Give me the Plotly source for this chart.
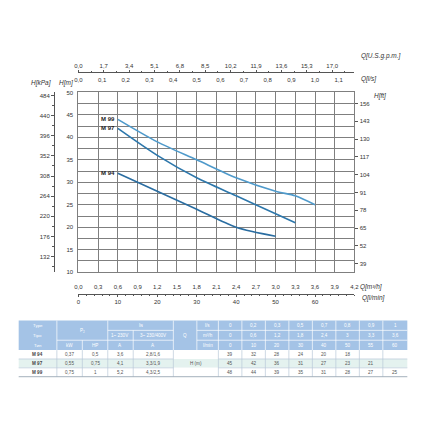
import plotly.graph_objects as go

W, H = 427, 430

# ---- performance table data ----
types = ["M 94", "M 97", "M 99"]
p2_kw = ["0,37", "0,55", "0,75"]
p2_hp = ["0,5", "0,75", "1"]
in_1ph = ["3,6", "4,1", "5,2"]
in_3ph = ["2,8/1,6", "3,3/1,9", "4,3/2,5"]

q_ls = ["0", "0,2", "0,3", "0,5", "0,7", "0,8", "0,9", "1"]
q_m3h = ["0", "0,6", "1,2", "1,8", "2,4", "3", "3,3", "3,6"]
q_lmin = [0, 10, 20, 30, 40, 50, 55, 60]

h_m94 = [39, 32, 28, 24, 20, 18, None, None]
h_m97 = [45, 42, 36, 31, 27, 23, 21, None]
h_m99 = [48, 44, 39, 35, 31, 28, 27, 25]

# ---- axis tick labels ----
lmin_ticks = [0, 10, 20, 30, 40, 50, 60]
m3h_ticks = [0.0, 0.3, 0.6, 0.9, 1.2, 1.5, 1.8, 2.1, 2.4, 2.7, 3.0, 3.3, 3.6, 3.9, 4.2]
ls_ticks = [0.0, 0.1, 0.2, 0.3, 0.4, 0.5, 0.6, 0.7, 0.8, 0.9, 1.0, 1.1]
gpm_ticks = [0.0, 1.7, 3.4, 5.1, 6.8, 8.5, 10.2, 11.9, 13.6, 15.3, 17.0]
m_ticks = [10, 15, 20, 25, 30, 35, 40, 45, 50]
kpa_ticks = [132, 176, 220, 264, 308, 352, 396, 440, 484]
ft_ticks = [39, 52, 65, 78, 91, 104, 117, 130, 143, 156]


def px_x(x):
    return x / W


def px_y(y):
    return 1 - y / H


def comma(v):
    return f"{v:.1f}".replace(".", ",")


GRID = "#7f7f7f"
AX = "#555555"
TXT = "#333333"
curve_colors = {"M 99": "#4f9acb", "M 97": "#2d77ab", "M 94": "#2a6da1"}

fig = go.Figure()

for name, hv in [("M 94", h_m94), ("M 97", h_m97), ("M 99", h_m99)]:
    xs = [q for q, h in zip(q_lmin[1:], hv[1:]) if h is not None]
    ys = [h for h in hv[1:] if h is not None]
    fig.add_trace(go.Scatter(x=xs, y=ys, mode="lines", name=name,
                             line=dict(color=curve_colors[name], width=1.6,
                                       shape="spline", smoothing=0.8),
                             hoverinfo="skip"))
    fig.add_annotation(x=xs[0], y=ys[0], xref="x", yref="y", text=f"<b>{name}</b>",
                       showarrow=False, xanchor="right", xshift=-1,
                       font=dict(size=6, color="#222"))

xd = [px_x(76), px_x(358)]
yd = [px_y(273), px_y(90.7)]

fig.update_layout(
    width=W, height=H, margin=dict(l=0, r=0, t=0, b=0),
    paper_bgcolor="white", plot_bgcolor="white", showlegend=False,
    font=dict(family="Liberation Sans, Arial, sans-serif", size=6, color=TXT),
    xaxis=dict(domain=xd, range=[0, 70], anchor="free", position=px_y(295), side="bottom",
               tickvals=lmin_ticks, ticktext=[str(v) for v in lmin_ticks],
               showline=True, linecolor=AX, linewidth=1, ticks="outside", ticklen=2,
               tickcolor=AX, minor=dict(dtick=2, ticks="outside", ticklen=1, tickcolor=AX),
               showgrid=False, zeroline=False, fixedrange=True),
    xaxis2=dict(overlaying="x", anchor="y", side="bottom", range=[0, 4.2],
                tickvals=m3h_ticks, ticktext=[comma(v) for v in m3h_ticks],
                showgrid=True, gridcolor=GRID, gridwidth=1, ticks="", ticklabelstandoff=9,
                showline=True, mirror=True, linecolor=GRID, zeroline=False),
    xaxis3=dict(overlaying="x", anchor="free", position=px_y(81), side="top",
                range=[0, 70 / 60], tickvals=ls_ticks, ticktext=[comma(v) for v in ls_ticks],
                showgrid=False, ticks="", showline=False, zeroline=False),
    xaxis4=dict(overlaying="x", anchor="free", position=px_y(70), side="top",
                range=[0, 70 / 3.785], tickvals=gpm_ticks, ticktext=[comma(v) for v in gpm_ticks],
                showgrid=False, showline=True, linecolor=AX, linewidth=1,
                ticks="outside", ticklen=2, tickcolor=AX,
                minor=dict(dtick=0.85, tick0=0, ticks="outside", ticklen=1, tickcolor=AX),
                zeroline=False),
    yaxis=dict(domain=yd, range=[10, 50], anchor="x", side="left",
               tickvals=m_ticks, ticktext=[str(v) for v in m_ticks],
               showgrid=True, gridcolor=GRID, gridwidth=1,
               minor=dict(dtick=2.5, tick0=0, showgrid=True, gridcolor=GRID, gridwidth=1),
               showline=True, mirror=True, linecolor=GRID, ticks="", ticklabelstandoff=3,
               zeroline=False),
    yaxis2=dict(overlaying="y", anchor="free", position=px_x(51), side="left",
                range=[98.1, 490.5], tickvals=kpa_ticks, ticktext=[str(v) for v in kpa_ticks],
                showgrid=False, showline=True, linecolor=AX, linewidth=1,
                ticks="outside", ticklen=3, tickcolor=AX,
                minor=dict(dtick=22, tick0=0, ticks="outside", ticklen=1.5, tickcolor=AX),
                zeroline=False),
    yaxis3=dict(overlaying="y", anchor="x", side="right",
                range=[32.81, 164.04], tickvals=ft_ticks, ticktext=[str(v) for v in ft_ticks],
                showgrid=False, showline=False, ticks="outside", ticklen=3, tickcolor=AX,
                zeroline=False),
)

# dummy traces so the overlay axes render
fig.add_trace(go.Scatter(x=[None], y=[None], xaxis="x2", yaxis="y2", showlegend=False))
fig.add_trace(go.Scatter(x=[None], y=[None], xaxis="x3", yaxis="y3", showlegend=False))
fig.add_trace(go.Scatter(x=[None], y=[None], xaxis="x4", yaxis="y", showlegend=False))

# axis titles
titles = [
    ("Q[U.S.g.p.m.]", 363, 54),
    ("Q[l/s]", 363, 77),
    ("H[kPa]", 26, 81),
    ("H[m]", 54, 81),
    ("H[ft]", 376, 94),
    ("Q[m³/h]", 362, 288),
    ("Q[l/min]", 364, 299),
]
for t, x, y in titles:
    fig.add_annotation(x=px_x(x), y=px_y(y), xref="paper", yref="paper", text=f"<i>{t}</i>",
                       showarrow=False, xanchor="left", yanchor="middle",
                       font=dict(size=6.5, color=TXT))

# ---- table (drawn with shapes) ----
HEAD = "#a4c3e6"
ROWALT = "#e4f2ef"
BORDER = "#b9c9d8"
cx = [15, 54, 80, 106, 132, 173, 197, 219, 243, 267, 291, 315, 339, 363, 387, 412]
hy = [322, 332, 342, 352]
ry = [352, 361, 370, 379]


def rect(x0, y0, x1, y1, fill):
    fig.add_shape(type="rect", xref="paper", yref="paper",
                  x0=px_x(x0), x1=px_x(x1), y0=px_y(y0), y1=px_y(y1),
                  fillcolor=fill, line=dict(width=0), layer="above")


def text(t, x, y, color="#555", size=4.6, bold=False):
    fig.add_annotation(x=px_x(x), y=px_y(y), xref="paper", yref="paper",
                       text=f"<b>{t}</b>" if bold else t, showarrow=False,
                       xanchor="center", yanchor="middle", font=dict(size=size, color=color))


def hline(x0, x1, y, color, w=0.7):
    fig.add_shape(type="line", xref="paper", yref="paper", x0=px_x(x0), x1=px_x(x1),
                  y0=px_y(y), y1=px_y(y), line=dict(color=color, width=w), layer="above")


def vline(x, y0, y1, color, w=0.7):
    fig.add_shape(type="line", xref="paper", yref="paper", x0=px_x(x), x1=px_x(x),
                  y0=px_y(y0), y1=px_y(y1), line=dict(color=color, width=w), layer="above")


rect(cx[0], hy[0], cx[-1], hy[-1], HEAD)
for i, fill in enumerate(["white", ROWALT, "white"]):
    rect(cx[0], ry[i], cx[-1], ry[i + 1], fill)

# header separators (white)
for x in cx[1:-1]:
    if x == 80:
        vline(x, hy[2], hy[3], "white")
    elif x == 132:
        vline(x, hy[1], hy[3], "white")
    else:
        vline(x, hy[0], hy[3], "white")
hline(cx[1], cx[3], hy[2], "white")
hline(cx[3], cx[5], hy[1], "white")
hline(cx[3], cx[5], hy[2], "white")
hline(cx[6], cx[-1], hy[1], "white")
hline(cx[6], cx[-1], hy[2], "white")

# body separators
for x in cx[1:-1]:
    if x == 197:
        continue
    vline(x, ry[0], ry[3], BORDER)
hline(cx[0], cx[5], ry[1], BORDER)
hline(cx[0], cx[5], ry[2], BORDER)
hline(cx[7], cx[-1], ry[1], BORDER)
hline(cx[7], cx[-1], ry[2], BORDER)
hline(cx[0], cx[-1], ry[3], "#9aa7b3", 0.9)


def mid(a, b):
    return (a + b) / 2


WH = "white"
text("Type", mid(cx[0], cx[1]), 327, WH, 4.4)
text("Tipo", mid(cx[0], cx[1]), 337, WH, 4.4)
text("Тип", mid(cx[0], cx[1]), 347, WH, 4.4)
text("P₂", mid(cx[1], cx[3]), mid(hy[0], hy[2]), WH)
text("kW", mid(cx[1], cx[2]), mid(hy[2], hy[3]), WH)
text("HP", mid(cx[2], cx[3]), mid(hy[2], hy[3]), WH)
text("Iɴ", mid(cx[3], cx[5]), mid(hy[0], hy[1]), WH)
text("1~ 230V", mid(cx[3], cx[4]), mid(hy[1], hy[2]), WH)
text("3~ 230/400V", mid(cx[4], cx[5]), mid(hy[1], hy[2]), WH)
text("A", mid(cx[3], cx[4]), mid(hy[2], hy[3]), WH)
text("A", mid(cx[4], cx[5]), mid(hy[2], hy[3]), WH)
text("Q", mid(cx[5], cx[6]), mid(hy[0], hy[3]), WH)
for j, u in enumerate(["l/s", "m³/h", "l/min"]):
    text(u, mid(cx[6], cx[7]), mid(hy[j], hy[j + 1]), WH)
for k in range(8):
    xm = mid(cx[7 + k], cx[8 + k])
    text(q_ls[k], xm, mid(hy[0], hy[1]), WH)
    text(q_m3h[k], xm, mid(hy[1], hy[2]), WH)
    text(str(q_lmin[k]), xm, mid(hy[2], hy[3]), WH)

for i in range(3):
    ym = mid(ry[i], ry[i + 1])
    text(types[i], mid(cx[0], cx[1]), ym, "#444", 4.6, bold=True)
    text(p2_kw[i], mid(cx[1], cx[2]), ym)
    text(p2_hp[i], mid(cx[2], cx[3]), ym)
    text(in_1ph[i], mid(cx[3], cx[4]), ym)
    text(in_3ph[i], mid(cx[4], cx[5]), ym)
    for k, h in enumerate([h_m94, h_m97, h_m99][i]):
        if h is not None:
            text(str(h), mid(cx[7 + k], cx[8 + k]), ym)
text("H (m)", mid(cx[5], cx[7]), mid(ry[0], ry[3]))

fig.write_html("out.html", config={"displayModeBar": False},
               post_script="document.body.style.margin='0';")
